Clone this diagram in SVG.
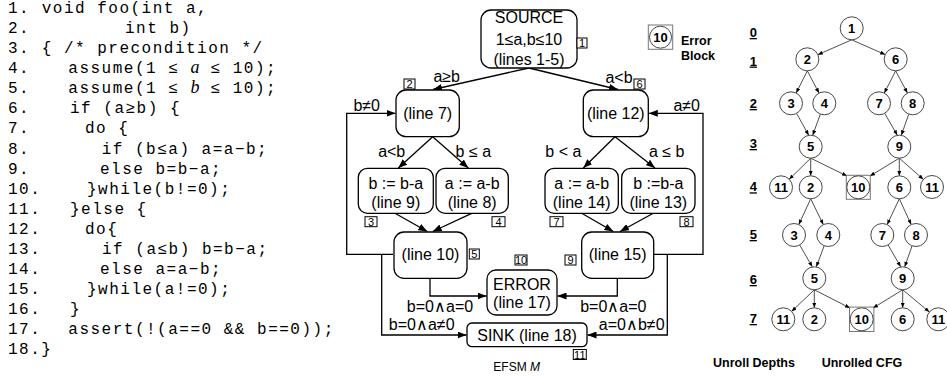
<svg xmlns="http://www.w3.org/2000/svg" width="947" height="378" viewBox="0 0 947 378">
<style>
.code{font-family:"Liberation Mono","DejaVu Sans Mono",monospace;font-size:16px;letter-spacing:1.5px;fill:#000}
.mi{font-family:"Liberation Serif",serif;font-style:italic;font-size:18px;letter-spacing:0}
.n{font-family:"Liberation Sans",Arial,sans-serif;font-size:16px;fill:#000;text-anchor:middle}
.lbl{font-family:"Liberation Sans",Arial,sans-serif;font-size:16px;fill:#000;text-anchor:middle}
.box{fill:#fff;stroke:#000;stroke-width:1.3}
.tag{fill:#fff;stroke:#000;stroke-width:1}
.tagt{font-family:"Liberation Sans",Arial,sans-serif;font-size:11px;fill:#000;text-anchor:middle}
.e{fill:none;stroke:#000;stroke-width:1.3;marker-end:url(#ah)}
.ce{fill:none;stroke:#222;stroke-width:0.8;marker-end:url(#sh)}
.c{fill:#fff;stroke:#333;stroke-width:0.9}
.sq{fill:none;stroke:#777;stroke-width:1}
.ct{font-family:"Liberation Sans",Arial,sans-serif;font-size:13px;font-weight:bold;fill:#000;text-anchor:middle}
.d{font-family:"Liberation Sans",Arial,sans-serif;font-size:13px;font-weight:bold;fill:#000;text-anchor:middle;text-decoration:underline}
.b{font-family:"Liberation Sans",Arial,sans-serif;font-size:12.5px;font-weight:bold;fill:#000}
.cap{font-family:"Liberation Sans",Arial,sans-serif;font-size:12px;fill:#000;text-anchor:middle}
</style>
<defs>
<marker id="ah" markerUnits="userSpaceOnUse" markerWidth="9" markerHeight="7" refX="9" refY="3.5" orient="auto"><path d="M0,0 L9,3.5 L0,7 z" fill="#000"/></marker>
<marker id="sh" markerUnits="userSpaceOnUse" markerWidth="5" markerHeight="4" refX="5" refY="2" orient="auto"><path d="M0,0 L5,2 L0,4 z" fill="#000"/></marker>
</defs>
<rect width="947" height="378" fill="#fff"/>

<g id="code" class="code">
<text x="8" y="13">1.</text><text x="41.7" y="13">void foo(int a,</text>
<text x="8" y="33.1">2.</text><text x="125" y="33.1">int b)</text>
<text x="8" y="53.1">3.</text><text x="41.7" y="53.1">{ /* precondition */</text>
<text x="8" y="73.2">4.</text><text x="68.3" y="73.2">assume(1 ≤ <tspan class="mi">a</tspan> ≤ 10);</text>
<text x="8" y="93.3">5.</text><text x="68.3" y="93.3">assume(1 ≤ <tspan class="mi">b</tspan> ≤ 10);</text>
<text x="8" y="113.4">6.</text><text x="70" y="113.4">if (a≥b) {</text>
<text x="8" y="133.4">7.</text><text x="85" y="133.4">do {</text>
<text x="8" y="153.5">8.</text><text x="101.7" y="153.5">if (b≤a) a=a−b;</text>
<text x="8" y="173.6">9.</text><text x="100" y="173.6">else b=b−a;</text>
<text x="8" y="193.6">10.</text><text x="87" y="193.6">}while(b!=0);</text>
<text x="8" y="213.7">11.</text><text x="70" y="213.7">}else {</text>
<text x="8" y="233.8">12.</text><text x="85" y="233.8">do{</text>
<text x="8" y="253.8">13.</text><text x="102" y="253.8">if (a≤b) b=b−a;</text>
<text x="8" y="273.9">14.</text><text x="100" y="273.9">else a=a−b;</text>
<text x="8" y="294">15.</text><text x="87" y="294">}while(a!=0);</text>
<text x="8" y="314.1">16.</text><text x="70" y="314.1">}</text>
<text x="8" y="334.1">17.</text><text x="68.3" y="334.1">assert(!(a==0 &amp;&amp; b==0));</text>
<text x="8" y="354.2">18.}</text>
</g>

<g id="connectors">
<path class="e" d="M529,68 L433,89.5"/>
<path class="e" d="M529,68 L618,89.5"/>
<path class="e" d="M393,254.3 L346.7,254.3 L346.7,113.3 L395.5,113.3"/>
<path class="e" d="M653.3,254.3 L703,254.3 L703,113.3 L648.8,113.3"/>
<path class="e" d="M432.7,136.7 L398.3,168"/>
<path class="e" d="M432.7,136.7 L468.3,168"/>
<path class="e" d="M615,136.7 L583.3,168"/>
<path class="e" d="M615,136.7 L655,168"/>
<path class="e" d="M395,213.3 L427.3,231.5"/>
<path class="e" d="M471.7,213.3 L432.7,231.5"/>
<path class="e" d="M581.7,213.3 L613.3,231.5"/>
<path class="e" d="M653.3,213.3 L620,231.5"/>
<path class="e" d="M430,278.3 L430,296 L486.5,296"/>
<path class="e" d="M617.3,278.3 L617.3,296 L557.5,296"/>
<path class="e" d="M381.7,254.3 L381.7,335 L466.5,335"/>
<path class="e" d="M667.3,254.3 L667.3,335 L587.5,335"/>
<text class="lbl" x="446.7" y="82">a≥b</text>
<text class="lbl" x="619" y="83">a&lt;b</text>
<text class="lbl" x="366.7" y="111">b≠0</text>
<text class="lbl" x="686.7" y="111">a≠0</text>
<text class="lbl" x="391.7" y="157">a&lt;b</text>
<text class="lbl" x="473.3" y="157">b ≤ a</text>
<text class="lbl" x="563.3" y="157">b &lt; a</text>
<text class="lbl" x="666.7" y="157">a ≤ b</text>
<text class="lbl" x="440" y="311.7">b=0∧a=0</text>
<text class="lbl" x="613.3" y="311.7">b=0∧a=0</text>
<text class="lbl" x="421.7" y="330">b=0∧a≠0</text>
<text class="lbl" x="631.7" y="330">a=0∧b≠0</text>
</g>

<g id="source">
<rect class="box" x="481" y="10" width="96" height="58" rx="10"/>
<text class="n" x="529" y="22.5">SOURCE</text>
<text class="n" x="529" y="44.8">1≤a,b≤10</text>
<text class="n" x="529" y="65">(lines 1-5)</text>
<rect class="tag" x="577" y="38" width="10" height="10"/><text class="tagt" x="582" y="47">1</text>
</g>
<g id="line7">
<rect class="box" x="396" y="90" width="63.3" height="46.7" rx="10"/>
<text class="n" x="427.7" y="119">(line 7)</text>
<rect class="tag" x="404" y="79" width="11" height="10"/><text class="tagt" x="409.5" y="88">2</text>
</g>
<g id="line12">
<rect class="box" x="583.3" y="90" width="65" height="46.7" rx="10"/>
<text class="n" x="615.8" y="119">(line 12)</text>
<rect class="tag" x="634" y="79" width="11" height="10"/><text class="tagt" x="639.5" y="88">6</text>
</g>
<g id="line9">
<rect class="box" x="358.3" y="168.3" width="75" height="45" rx="9"/>
<text class="n" x="395.8" y="189">b := b-a</text>
<text class="n" x="395.8" y="208">(line 9)</text>
<rect class="tag" x="365" y="216.7" width="12" height="10"/><text class="tagt" x="371" y="225.7">3</text>
</g>
<g id="line8">
<rect class="box" x="436" y="168.3" width="72.3" height="45" rx="9"/>
<text class="n" x="472.2" y="189">a := a-b</text>
<text class="n" x="472.2" y="208">(line 8)</text>
<rect class="tag" x="492" y="216.7" width="13" height="10"/><text class="tagt" x="498.5" y="225.7">4</text>
</g>
<g id="line14">
<rect class="box" x="545" y="168.3" width="73.3" height="45" rx="9"/>
<text class="n" x="581.7" y="189">a := a-b</text>
<text class="n" x="581.7" y="208">(line 14)</text>
<rect class="tag" x="550" y="216.7" width="13" height="10"/><text class="tagt" x="556.5" y="225.7">7</text>
</g>
<g id="line13">
<rect class="box" x="621.7" y="168.3" width="73.3" height="45" rx="9"/>
<text class="n" x="658.3" y="189">b :=b-a</text>
<text class="n" x="658.3" y="208">(line 13)</text>
<rect class="tag" x="680" y="216.7" width="13" height="10"/><text class="tagt" x="686.5" y="225.7">8</text>
</g>
<g id="line10">
<rect class="box" x="394" y="232" width="73" height="46.3" rx="10"/>
<text class="n" x="430.5" y="259.5">(line 10)</text>
<rect class="tag" x="469.3" y="249" width="10" height="10"/><text class="tagt" x="474.3" y="258">5</text>
</g>
<g id="line15">
<rect class="box" x="581.7" y="232" width="72" height="46.3" rx="10"/>
<text class="n" x="617.7" y="259.5">(line 15)</text>
<rect class="tag" x="565" y="255" width="11" height="10"/><text class="tagt" x="570.5" y="264">9</text>
</g>
<g id="error">
<rect class="box" x="487" y="270" width="70" height="45" rx="9"/>
<text class="n" x="522" y="290">ERROR</text>
<text class="n" x="522" y="308.3">(line 17)</text>
<rect class="tag" x="515" y="255" width="12" height="10"/><text class="tagt" x="521" y="264">10</text>
</g>
<g id="sink">
<rect class="box" x="467" y="323" width="120" height="23.7" rx="5"/>
<text class="n" x="527" y="340.5">SINK (line 18)</text>
<rect class="tag" x="573.3" y="349.5" width="13" height="10"/><text class="tagt" x="579.8" y="358.5">11</text>
</g>
<text class="cap" x="516.7" y="371">EFSM <tspan font-style="italic">M</tspan></text>

<g id="legend">
<rect class="sq" x="648.3" y="25" width="24.4" height="24.3"/>
<circle class="c" cx="660.5" cy="37.2" r="11"/>
<text class="ct" x="660.5" y="41.7">10</text>
<text class="b" x="681" y="45">Error</text>
<text class="b" x="681" y="60">Block</text>
</g>

<g id="depths">
<text class="d" x="753.3" y="37">0</text>
<text class="d" x="753.3" y="65.5">1</text>
<text class="d" x="753.3" y="108">2</text>
<text class="d" x="753.3" y="148">3</text>
<text class="d" x="753.3" y="191.3">4</text>
<text class="d" x="753.3" y="239">5</text>
<text class="d" x="753.3" y="284">6</text>
<text class="d" x="753.3" y="323">7</text>
</g>

<g id="cfg-edges">
<path class="ce" d="M851.7,39.8 L817.8,54.7"/>
<path class="ce" d="M851.7,39.8 L885.2,54.6"/>
<path class="ce" d="M807.3,70.8 L796.2,93"/>
<path class="ce" d="M807.3,70.8 L819,93.1"/>
<path class="ce" d="M895.7,70.8 L884.3,93.1"/>
<path class="ce" d="M895.7,70.8 L907.4,93.1"/>
<path class="ce" d="M796.6,113.4 L808.7,135.2"/>
<path class="ce" d="M820.4,114.1 L812.7,135.2"/>
<path class="ce" d="M884.7,113.3 L897.3,135.2"/>
<path class="ce" d="M908.8,114.1 L901.3,135.2"/>
<path class="ce" d="M810.7,158.2 L789.2,179.3"/>
<path class="ce" d="M810.7,158.2 L810.7,175.8"/>
<path class="ce" d="M810.7,158.2 L847,176"/>
<path class="ce" d="M899.3,158.2 L870,176"/>
<path class="ce" d="M899.3,158.2 L899.3,175.8"/>
<path class="ce" d="M899.3,158.2 L923.4,179.4"/>
<path class="ce" d="M810.7,198.8 L798.8,224.6"/>
<path class="ce" d="M810.7,198.8 L823.3,224.6"/>
<path class="ce" d="M899.3,198.8 L887.2,224.6"/>
<path class="ce" d="M899.3,198.8 L911.2,224.6"/>
<path class="ce" d="M799.7,245 L812.3,266.8"/>
<path class="ce" d="M824.2,245.8 L816.3,266.8"/>
<path class="ce" d="M888.1,245 L900.7,266.8"/>
<path class="ce" d="M912.1,245.8 L904.7,266.8"/>
<path class="ce" d="M814.3,289.8 L791.6,311.4"/>
<path class="ce" d="M814.3,289.8 L814.3,307.8"/>
<path class="ce" d="M814.3,289.8 L850,308"/>
<path class="ce" d="M902.7,289.8 L873,308"/>
<path class="ce" d="M902.7,289.8 L902.7,307.8"/>
<path class="ce" d="M902.7,289.8 L929.4,312"/>
</g>

<g id="n1"><circle class="c" cx="851.7" cy="28.3" r="11.5"/><text class="ct" x="851.7" y="32.8">1</text></g>
<g id="n2a"><circle class="c" cx="807.3" cy="59.3" r="11.5"/><text class="ct" x="807.3" y="63.8">2</text></g>
<g id="n6a"><circle class="c" cx="895.7" cy="59.3" r="11.5"/><text class="ct" x="895.7" y="63.8">6</text></g>
<g id="n3a"><circle class="c" cx="791" cy="103.3" r="11.5"/><text class="ct" x="791" y="107.8">3</text></g>
<g id="n4a"><circle class="c" cx="824.3" cy="103.3" r="11.5"/><text class="ct" x="824.3" y="107.8">4</text></g>
<g id="n7a"><circle class="c" cx="879" cy="103.3" r="11.5"/><text class="ct" x="879" y="107.8">7</text></g>
<g id="n8a"><circle class="c" cx="912.7" cy="103.3" r="11.5"/><text class="ct" x="912.7" y="107.8">8</text></g>
<g id="n5a"><circle class="c" cx="810.7" cy="146.7" r="11.5"/><text class="ct" x="810.7" y="151.2">5</text></g>
<g id="n9a"><circle class="c" cx="899.3" cy="146.7" r="11.5"/><text class="ct" x="899.3" y="151.2">9</text></g>
<g id="n11a"><circle class="c" cx="781" cy="187.3" r="11.5"/><text class="ct" x="781" y="191.8">11</text></g>
<g id="n2b"><circle class="c" cx="810.7" cy="187.3" r="11.5"/><text class="ct" x="810.7" y="191.8">2</text></g>
<g id="n10a"><rect class="sq" x="846.3" y="175.3" width="24" height="24"/><circle class="c" cx="858.3" cy="187.3" r="11.5"/><text class="ct" x="858.3" y="191.8">10</text></g>
<g id="n6b"><circle class="c" cx="899.3" cy="187.3" r="11.5"/><text class="ct" x="899.3" y="191.8">6</text></g>
<g id="n11b"><circle class="c" cx="932" cy="187" r="11.5"/><text class="ct" x="932" y="191.5">11</text></g>
<g id="n3b"><circle class="c" cx="794" cy="235" r="11.5"/><text class="ct" x="794" y="239.5">3</text></g>
<g id="n4b"><circle class="c" cx="828.3" cy="235" r="11.5"/><text class="ct" x="828.3" y="239.5">4</text></g>
<g id="n7b"><circle class="c" cx="882.3" cy="235" r="11.5"/><text class="ct" x="882.3" y="239.5">7</text></g>
<g id="n8b"><circle class="c" cx="916" cy="235" r="11.5"/><text class="ct" x="916" y="239.5">8</text></g>
<g id="n5b"><circle class="c" cx="814.3" cy="278.3" r="11.5"/><text class="ct" x="814.3" y="282.8">5</text></g>
<g id="n9b"><circle class="c" cx="902.7" cy="278.3" r="11.5"/><text class="ct" x="902.7" y="282.8">9</text></g>
<g id="n11c"><circle class="c" cx="783.3" cy="319.3" r="11.5"/><text class="ct" x="783.3" y="323.8">11</text></g>
<g id="n2c"><circle class="c" cx="814.3" cy="319.3" r="11.5"/><text class="ct" x="814.3" y="323.8">2</text></g>
<g id="n10b"><rect class="sq" x="849.5" y="307.1" width="24.4" height="24.4"/><circle class="c" cx="861.7" cy="319.3" r="11.5"/><text class="ct" x="861.7" y="323.8">10</text></g>
<g id="n6c"><circle class="c" cx="902.7" cy="319.3" r="11.5"/><text class="ct" x="902.7" y="323.8">6</text></g>
<g id="n11d"><circle class="c" cx="938.3" cy="319.3" r="11.5"/><text class="ct" x="938.3" y="323.8">11</text></g>

<text class="b" x="713" y="367">Unroll Depths</text>
<text class="b" x="821.7" y="367">Unrolled CFG</text>
</svg>
